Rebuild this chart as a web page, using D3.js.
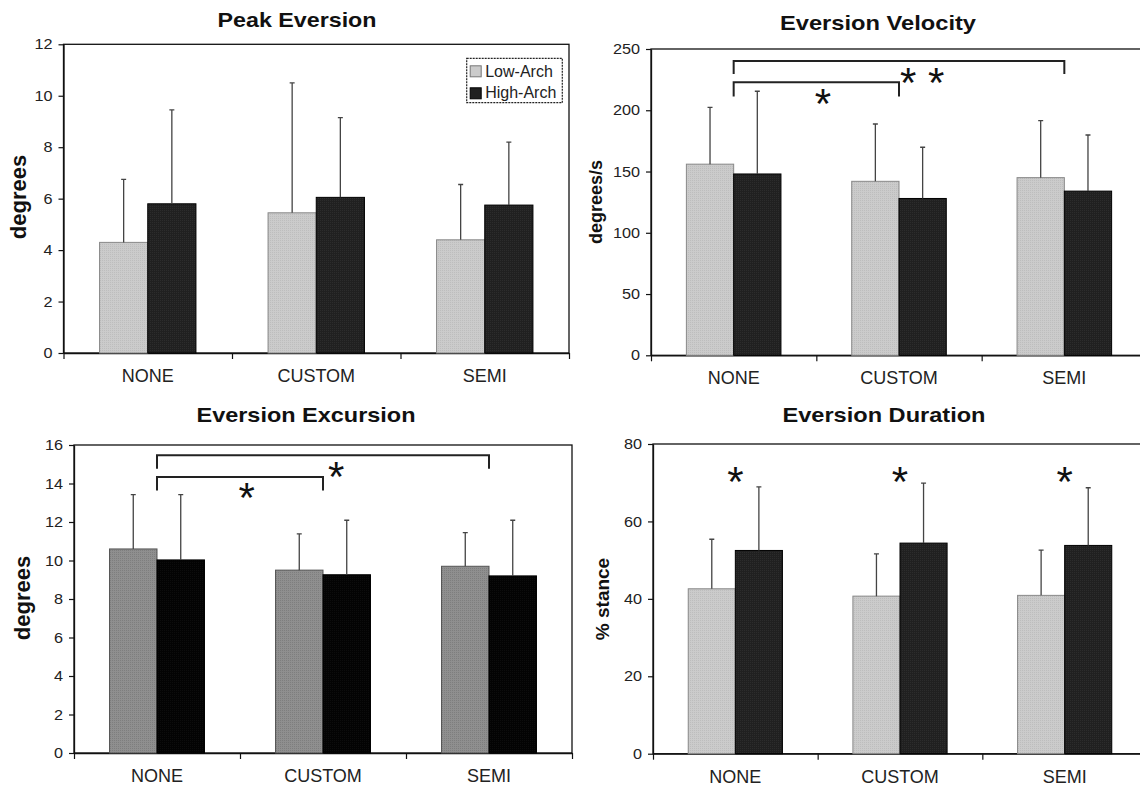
<!DOCTYPE html>
<html>
<head>
<meta charset="utf-8">
<script src="https://cdn.jsdelivr.net/npm/d3@7"></script>
<style>
  body { margin: 0; background: #fff; }
  svg { display: block; font-family: "Liberation Sans", Arial, sans-serif; }
</style>
</head>
<body>
<svg width="1140" height="790"></svg>
<script>
// categories / series
const categories = ['NONE', 'CUSTOM', 'SEMI'];
const groups = ['Low-Arch', 'High-Arch'];

// Peak Eversion (degrees)
const peakLow = [4.3, 5.45, 4.4];
const peakHigh = [5.8, 6.05, 5.75];
const peakLowSD = [2.45, 5.05, 2.15];
const peakHighSD = [3.65, 3.1, 2.45];
const peakTicks = [0, 2, 4, 6, 8, 10, 12];

// Eversion Velocity (degrees/s)
const velLow = [156, 142, 145];
const velHigh = [148, 128, 134];
const velLowSD = [46.4, 46.8, 46.5];
const velHighSD = [67.5, 41.8, 45.8];
const velTicks = [0, 50, 100, 150, 200, 250];

// Eversion Excursion (degrees)
const excLow = [10.6, 9.5, 9.7];
const excHigh = [10.03, 9.26, 9.2];
const excLowSD = [2.82, 1.88, 1.75];
const excHighSD = [3.39, 2.83, 2.89];
const excTicks = [0, 2, 4, 6, 8, 10, 12, 14, 16];

// Eversion Duration (% stance)
const durLow = [42.6, 40.7, 40.9];
const durHigh = [52.5, 54.4, 53.8];
const durLowSD = [12.8, 10.9, 11.7];
const durHighSD = [16.4, 15.5, 14.9];
const durTicks = [0, 20, 40, 60, 80];

// significance marks
const velBrackets = [
  { from: 'NONE', to: 'SEMI', y: 240.2, drop: 229.6, mark: '* *', t: 0.57, markY: 230.7 },
  { from: 'NONE', to: 'CUSTOM', y: 222.8, drop: 211.3, mark: '*', t: 0.54, markY: 213 }
];
const excBrackets = [
  { from: 'NONE', to: 'SEMI', y: 15.47, drop: 14.77, mark: '*', t: 0.54, markY: 14.87 },
  { from: 'NONE', to: 'CUSTOM', y: 14.34, drop: 13.63, mark: '*', t: 0.54, markY: 13.77 }
];
const durStars = [72.7, 72.7, 72.7];

const svg = d3.select('svg');
const defs = svg.append('defs');

// halftone-ish fills
function pattern(id, base, dot) {
  const p = defs.append('pattern').attr('id', id)
    .attr('width', 2).attr('height', 2).attr('patternUnits', 'userSpaceOnUse');
  p.append('rect').attr('width', 2).attr('height', 2).attr('fill', base);
  p.append('rect').attr('width', 1).attr('height', 1).attr('fill', dot);
}
pattern('pLight', '#cbcbcb', '#bdbdbd');
pattern('pDark', '#202020', '#2c2c2c');
pattern('pMid', '#8f8f8f', '#7e7e7e');
pattern('pBlack', '#030303', '#0c0c0c');

const STAR = 42;

function panel(o) {
  const g = svg.append('g');
  const y = d3.scaleLinear().domain([0, o.ticks[o.ticks.length - 1]]).range([o.yBot, o.yTop]);
  const x = d3.scaleBand().domain(categories).range([o.x0, o.x1]).paddingInner(0.428).paddingOuter(0.214);
  const xs = d3.scaleBand().domain(groups).range([0, x.bandwidth()]);
  const center = c => x(c) + x.bandwidth() / 2;

  // frame
  g.append('rect')
    .attr('x', o.x0).attr('y', o.yTop)
    .attr('width', o.x1 - o.x0).attr('height', o.yBot - o.yTop)
    .attr('fill', 'none').attr('stroke', '#111').attr('stroke-width', 1.3);

  // y axis
  const ya = g.append('g')
    .attr('transform', `translate(${o.x0},0)`)
    .call(d3.axisLeft(y).tickValues(o.ticks).tickSize(5).tickSizeOuter(0).tickPadding(6));
  ya.select('.domain').attr('stroke', '#111').attr('stroke-width', 1.3);
  ya.selectAll('.tick line').attr('stroke', '#111').attr('stroke-width', 1.2);
  ya.selectAll('.tick text')
    .attr('font-size', 14.5).attr('fill', '#222')
    .attr('font-family', '"Liberation Sans", Arial, sans-serif')
    .attr('x', -11 / 1.12).attr('transform', 'scale(1.12,1)');

  // x axis: boundary ticks + centred labels
  const xb = d3.scaleLinear().domain([0, 3]).range([o.x0, o.x1]);
  const xa = g.append('g')
    .attr('transform', `translate(0,${o.yBot})`)
    .call(d3.axisBottom(xb).tickValues([0, 1, 2, 3]).tickFormat('').tickSize(6).tickSizeOuter(0));
  xa.select('.domain').attr('stroke', '#111').attr('stroke-width', 1.3);
  xa.selectAll('.tick line').attr('stroke', '#111').attr('stroke-width', 1.2);

  const xl = g.append('g')
    .attr('transform', `translate(0,${o.yBot})`)
    .call(d3.axisBottom(x).tickSize(0).tickPadding(0));
  xl.select('.domain').remove();
  xl.selectAll('.tick text')
    .attr('font-size', 18).attr('fill', '#222')
    .attr('font-family', '"Liberation Sans", Arial, sans-serif')
    .attr('dy', 0).attr('y', 29);

  // bars
  const rows = [];
  categories.forEach((c, i) => {
    rows.push({ cat: c, grp: groups[0], v: o.low[i], sd: o.lowSD[i] });
    rows.push({ cat: c, grp: groups[1], v: o.high[i], sd: o.highSD[i] });
  });
  g.selectAll('.bar')
    .data(rows)
    .enter()
    .append('rect')
    .classed('bar', true)
    .attr('x', d => x(d.cat) + xs(d.grp))
    .attr('y', d => y(d.v))
    .attr('width', xs.bandwidth())
    .attr('height', d => o.yBot - y(d.v))
    .attr('fill', d => d.grp === groups[0] ? o.fillLow : o.fillHigh)
    .attr('stroke', d => d.grp === groups[0] ? o.strokeLow : '#000')
    .attr('stroke-width', 1);

  // error bars (upper only)
  const ex = d => x(d.cat) + xs(d.grp) + xs.bandwidth() / 2;
  g.selectAll('.err')
    .data(rows)
    .enter()
    .append('path')
    .classed('err', true)
    .attr('d', d => `M${ex(d)},${y(d.v)}V${y(d.v + d.sd)}M${ex(d) - 2.5},${y(d.v + d.sd)}H${ex(d) + 2.5}`)
    .attr('fill', 'none').attr('stroke', '#444').attr('stroke-width', 1.3);

  // title
  g.append('text')
    .attr('x', o.titleX).attr('y', o.titleY)
    .attr('text-anchor', 'middle')
    .attr('font-weight', 'bold').attr('font-size', 20.5)
    .attr('textLength', o.titleW).attr('lengthAdjust', 'spacingAndGlyphs')
    .attr('fill', '#111')
    .text(o.title);

  // y label
  g.append('text')
    .attr('transform', `translate(${o.labX},${o.labY}) rotate(-90)`)
    .attr('text-anchor', 'middle')
    .attr('font-weight', 'bold').attr('font-size', o.labSize)
    .attr('fill', '#111')
    .text(o.ylabel);

  // brackets and stars
  const starBase = 0.573 * STAR;
  (o.brackets || []).forEach(b => {
    const a = center(b.from), c = center(b.to);
    g.append('path')
      .attr('d', `M${a},${y(b.drop)}V${y(b.y)}H${c}V${y(b.drop)}`)
      .attr('fill', 'none').attr('stroke', '#222').attr('stroke-width', 2);
    g.append('text')
      .attr('x', a + (c - a) * b.t).attr('y', y(b.markY) + starBase)
      .attr('text-anchor', 'middle').attr('font-size', STAR).attr('fill', '#111')
      .text(b.mark);
  });
  (o.stars || []).forEach((v, i) => {
    g.append('text')
      .attr('x', center(categories[i])).attr('y', y(v) + starBase)
      .attr('text-anchor', 'middle').attr('font-size', STAR).attr('fill', '#111')
      .text('*');
  });
  return g;
}

const p1 = panel({
  title: 'Peak Eversion', titleX: 297, titleY: 27, titleW: 159,
  ylabel: 'degrees', labX: 26, labY: 197, labSize: 22,
  x0: 63.5, x1: 569, yTop: 44.3, yBot: 353, ticks: peakTicks,
  low: peakLow, high: peakHigh, lowSD: peakLowSD, highSD: peakHighSD,
  fillLow: 'url(#pLight)', fillHigh: 'url(#pDark)', strokeLow: '#888'
});

panel({
  title: 'Eversion Velocity', titleX: 878, titleY: 30, titleW: 196,
  ylabel: 'degrees/s', labX: 602, labY: 202, labSize: 18,
  x0: 651, x1: 1147, yTop: 49, yBot: 355.3, ticks: velTicks,
  low: velLow, high: velHigh, lowSD: velLowSD, highSD: velHighSD,
  fillLow: 'url(#pLight)', fillHigh: 'url(#pDark)', strokeLow: '#888',
  brackets: velBrackets
});

panel({
  title: 'Eversion Excursion', titleX: 306, titleY: 421.5, titleW: 219,
  ylabel: 'degrees', labX: 30, labY: 598, labSize: 22,
  x0: 74, x1: 572, yTop: 445, yBot: 753, ticks: excTicks,
  low: excLow, high: excHigh, lowSD: excLowSD, highSD: excHighSD,
  fillLow: 'url(#pMid)', fillHigh: 'url(#pBlack)', strokeLow: '#555',
  brackets: excBrackets
});

panel({
  title: 'Eversion Duration', titleX: 884, titleY: 422, titleW: 203,
  ylabel: '% stance', labX: 609, labY: 599, labSize: 19,
  x0: 653, x1: 1147, yTop: 444, yBot: 753.7, ticks: durTicks,
  low: durLow, high: durHigh, lowSD: durLowSD, highSD: durHighSD,
  fillLow: 'url(#pLight)', fillHigh: 'url(#pDark)', strokeLow: '#888',
  stars: durStars
});

// legend (Peak Eversion panel)
const legend = p1.append('g').attr('transform', 'translate(466.7,58.3)');
legend.append('rect')
  .attr('width', 95.6).attr('height', 44.4)
  .attr('fill', '#fff').attr('stroke', '#222').attr('stroke-width', 1.2)
  .attr('stroke-dasharray', '2,1');
legend.selectAll('.sw')
  .data(groups)
  .enter()
  .append('rect')
  .classed('sw', true)
  .attr('x', 3.5).attr('y', (d, i) => 7.5 + i * 22)
  .attr('width', 11).attr('height', 11)
  .attr('fill', (d, i) => i === 0 ? '#cbcbcb' : '#202020')
  .attr('stroke', (d, i) => i === 0 ? '#777' : '#000');
legend.selectAll('.lt')
  .data(groups)
  .enter()
  .append('text')
  .classed('lt', true)
  .attr('x', 18.5).attr('y', (d, i) => 18.3 + i * 21.7)
  .attr('font-size', 16).attr('fill', '#222')
  .text(d => d);
</script>
</body>
</html>
